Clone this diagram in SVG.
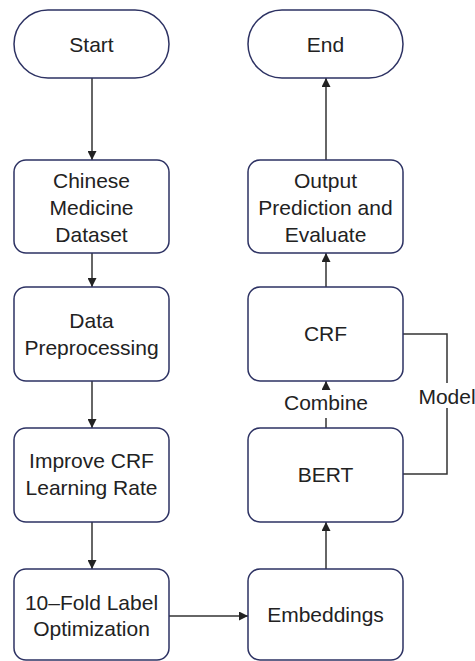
<svg xmlns="http://www.w3.org/2000/svg" width="475" height="661" viewBox="0 0 475 661">
<style>
.box{fill:#fff;stroke:#2d3263;stroke-width:1.5}
.t{font-family:"Liberation Sans",Arial,sans-serif;font-size:21px;fill:#222;text-anchor:middle}
.c{fill:none;stroke:#333;stroke-width:1.5}
</style>
<defs>
<marker id="ah" viewBox="0 0 10 10" refX="10" refY="5" markerWidth="9" markerHeight="9" markerUnits="userSpaceOnUse" orient="auto">
<path d="M0,0 L10,5 L0,10 z" fill="#222"/>
</marker>
</defs>
<rect width="475" height="661" fill="#fff"/>
<g id="connectors">
<line class="c" x1="92" y1="78" x2="92" y2="160" marker-end="url(#ah)"/>
<line class="c" x1="92" y1="253" x2="92" y2="287" marker-end="url(#ah)"/>
<line class="c" x1="92" y1="381" x2="92" y2="428" marker-end="url(#ah)"/>
<line class="c" x1="92" y1="522" x2="92" y2="569" marker-end="url(#ah)"/>
<line class="c" x1="169" y1="616" x2="248" y2="616" marker-end="url(#ah)"/>
<line class="c" x1="326" y1="569" x2="326" y2="522" marker-end="url(#ah)"/>
<line class="c" x1="326" y1="428" x2="326" y2="381" marker-end="url(#ah)"/>
<line class="c" x1="326" y1="287" x2="326" y2="253" marker-end="url(#ah)"/>
<line class="c" x1="326" y1="160" x2="326" y2="78" marker-end="url(#ah)"/>
<polyline class="c" points="403,334 447,334 447,474 403,474"/>
<rect x="288" y="390" width="76" height="28" fill="#fff"/>
<text class="t" x="326" y="410">Combine</text>
<rect x="418" y="383" width="57" height="25" fill="#fff"/>
<text class="t" x="447" y="404">Model</text>
</g>
<g id="start"><rect class="box" x="14" y="10" width="155" height="68" rx="34"/><text class="t" x="91.5" y="52">Start</text></g>
<g id="dataset"><rect class="box" x="14" y="160" width="155" height="93" rx="12"/><text class="t" x="91.5" y="188">Chinese</text><text class="t" x="91.5" y="215">Medicine</text><text class="t" x="91.5" y="242">Dataset</text></g>
<g id="preprocessing"><rect class="box" x="14" y="287" width="155" height="94" rx="12"/><text class="t" x="91.5" y="328">Data</text><text class="t" x="91.5" y="355">Preprocessing</text></g>
<g id="improve"><rect class="box" x="14" y="428" width="155" height="94" rx="12"/><text class="t" x="91.5" y="468">Improve CRF</text><text class="t" x="91.5" y="495">Learning Rate</text></g>
<g id="tenfold"><rect class="box" x="14" y="569" width="155" height="91" rx="12"/><text class="t" x="91.5" y="610">10–Fold Label</text><text class="t" x="91.5" y="636">Optimization</text></g>
<g id="end"><rect class="box" x="248" y="10" width="155" height="68" rx="34"/><text class="t" x="325.5" y="52">End</text></g>
<g id="output"><rect class="box" x="248" y="160" width="155" height="93" rx="12"/><text class="t" x="325.5" y="188">Output</text><text class="t" x="325.5" y="215">Prediction and</text><text class="t" x="325.5" y="242">Evaluate</text></g>
<g id="crf"><rect class="box" x="248" y="287" width="155" height="94" rx="12"/><text class="t" x="325.5" y="341">CRF</text></g>
<g id="bert"><rect class="box" x="248" y="428" width="155" height="94" rx="12"/><text class="t" x="325.5" y="482">BERT</text></g>
<g id="embeddings"><rect class="box" x="248" y="569" width="155" height="91" rx="12"/><text class="t" x="325.5" y="622">Embeddings</text></g>
</svg>
